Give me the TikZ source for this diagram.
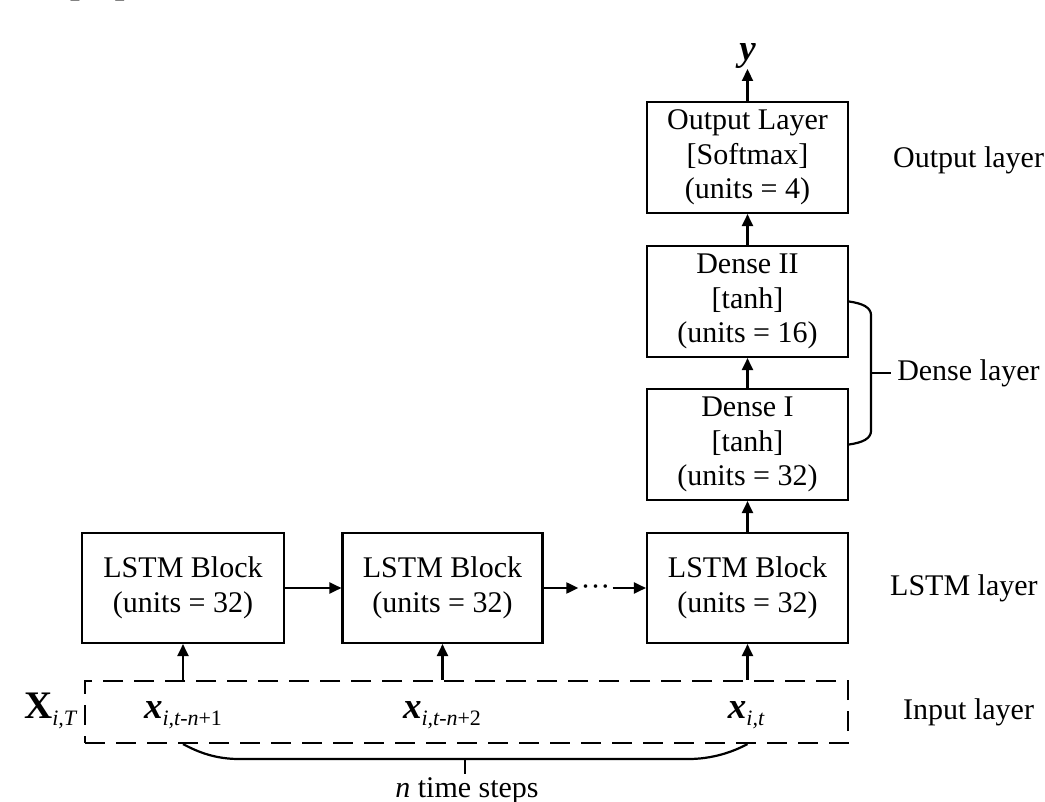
\documentclass[tikz,border=0pt]{standalone}
\usepackage{fontspec}
\setmainfont{Liberation Serif}
\setsansfont{Liberation Sans}
\usetikzlibrary{arrows.meta,calc}
\newcommand\txt{\fontsize{30}{34.5}\selectfont}
\newcommand\bigx[1]{{\fontsize{37}{37}\selectfont\bfseries\itshape #1}}
\newcommand\bigX[1]{{\fontsize{39}{39}\selectfont\bfseries #1}}
\newcommand\sbs[1]{\raisebox{-7pt}{\fontsize{22}{22}\selectfont\itshape #1}}
\tikzset{
  box/.style={draw, line width=2.1pt, minimum width=201pt, minimum height=111pt, align=center, font=\txt, inner sep=0pt},
  arr/.style={line width=2.2pt, -{Triangle[length=12pt,width=11pt]}},
  lbl/.style={anchor=west, font=\txt, inner sep=0pt},
  brace/.style={line width=2.2pt},
  inbox/.style={draw, line width=2.1pt, dash pattern=on 20pt off 11pt, minimum width=763pt, minimum height=62pt, inner sep=0pt},
  sym/.style={inner sep=0pt, anchor=base},
}
\begin{document}
\begin{tikzpicture}[x=1pt,y=-1pt]
\useasboundingbox (0,0) rectangle (1045,802);
% cropped panel label
\node[anchor=base west, inner sep=0pt, font=\fontsize{65}{65}\selectfont\sffamily\bfseries] (panel) at (58,-12) {(a)};
% boxes
\node[box] (out) at (747.5,157.5) {Output Layer\\{}[Softmax]\\(units = 4)};
\node[box] (d2) at (747.5,301.5) {Dense II\\{}[tanh]\\(units = 16)};
\node[box] (d1) at (747.5,444.5) {Dense I\\{}[tanh]\\(units = 32)};
\node[box, minimum width=202pt, minimum height=110pt] (l1) at (183,588) {LSTM Block\\(units = 32)};
\node[box, minimum width=200pt, minimum height=110pt] (l2) at (442.5,588) {LSTM Block\\(units = 32)};
\node[box, minimum height=110pt] (l3) at (747.5,588) {LSTM Block\\(units = 32)};
\node[inner sep=2pt, anchor=base, font=\txt] (dots) at (595.5,596) {\char"00B7\char"00B7\char"00B7};
% input layer
\node[inbox] (inp) at (466.5,712) {};
\node[sym] (xa) at (183,718) {\bigx{x}\sbs{i,t-n\textup{+1}}};
\node[sym] (xb) at (442,718) {\bigx{x}\sbs{i,t-n\textup{+2}}};
\node[sym] (xc) at (746,718) {\bigx{x}\sbs{i,t}};
\node[anchor=base west, inner sep=0pt] (XT) at (24,718) {\bigX{X}\sbs{i,T}};
% output y
\node[anchor=south, inner sep=0pt] (yl) at (747.5,69) {\bigx{y}};
% arrows
\draw[arr] (l1.east) -- (l2.west);
\draw[arr] (l2.east) -- (l2.east -| dots.west);
\draw[arr] (l3.west -| dots.east) -- (l3.west);
\draw[arr] (l1 |- inp.north) -- (l1.south);
\draw[arr] (l2 |- inp.north) -- (l2.south);
\draw[arr] (l3 |- inp.north) -- (l3.south);
\draw[arr] (l3.north) -- (d1.south);
\draw[arr] (d1.north) -- (d2.south);
\draw[arr] (d2.north) -- (out.south);
\draw[arr] (out.north) -- (yl.south);
% dense brace
\coordinate (bt) at ($(d2.east)+(22,14)$);
\coordinate (bb) at ($(d1.east)+(22,-14)$);
\coordinate (bm) at ($(bt)!0.5!(bb)$);
\draw[brace] (d2.east) .. controls +(14,2) and +(0,-8) .. (bt) -- (bb) .. controls +(0,8) and +(14,-2) .. (d1.east);
\draw[brace] (bm) -- +(20,0) coordinate (bmr);
\node[lbl, anchor=west] (dl) at ($(bmr)+(6,0)$) {Dense layer};
% time-step brace
\coordinate (tl) at (l1 |- inp.south);
\coordinate (tr) at (l3 |- inp.south);
\coordinate (tlb) at ($(tl)+(57,15)$);
\coordinate (trb) at ($(tr)+(-60,15)$);
\coordinate (tmid) at ($(tl)!0.5!(tr)$);
\coordinate (tm) at ($(tmid)+(0,15)$);
\draw[brace] (tl) .. controls +(15,8) and +(-25,0) .. (tlb) -- (trb) .. controls +(25,0) and +(-15,8) .. (tr);
\draw[brace] (tm) -- +(0,15);
\node[anchor=base, inner sep=0pt, font=\txt] (ts) at (467,797) {\textit{n} time steps};
% right labels
\node[lbl] (ol) at (893,160) {Output layer};
\node[lbl] (ll) at (890,588) {LSTM layer};
\node[lbl] (il) at (903,712) {Input layer};
\end{tikzpicture}
\end{document}
